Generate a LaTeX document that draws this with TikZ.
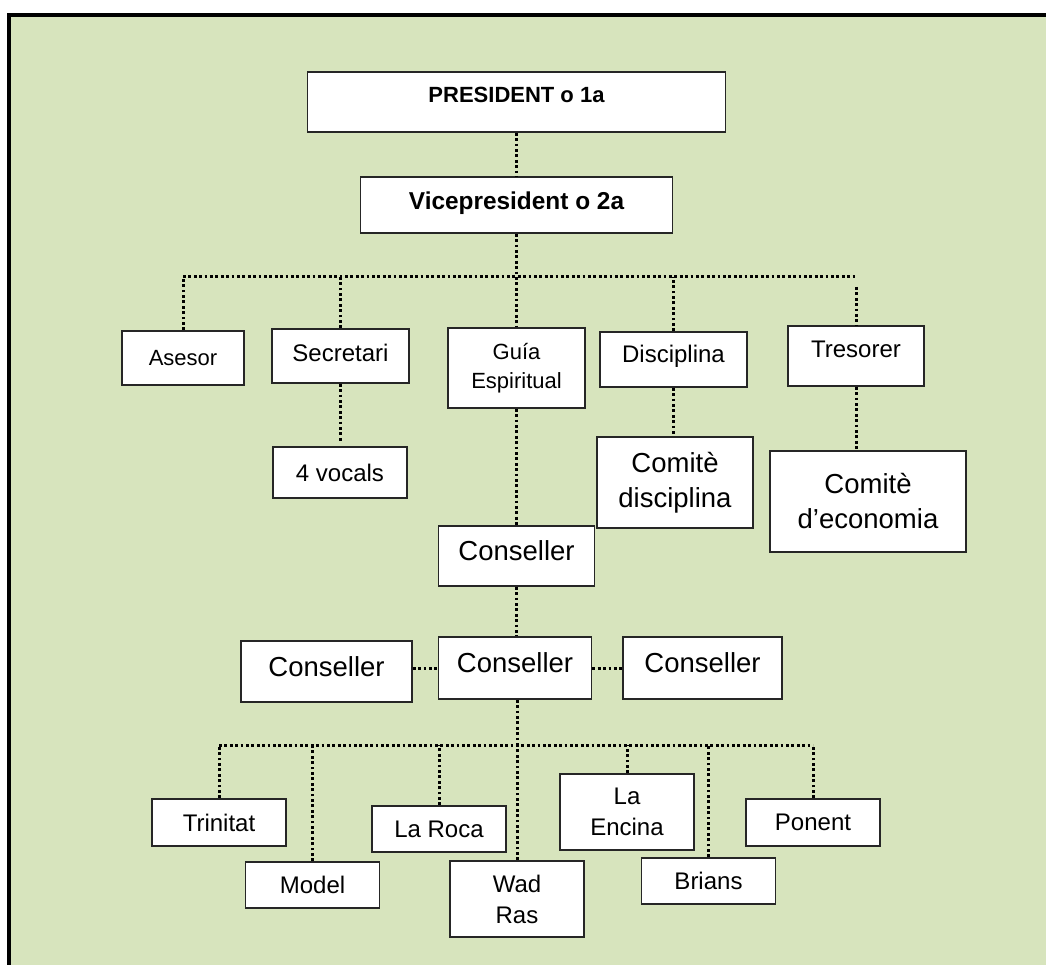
\documentclass[tikz,border=0pt]{standalone}
\usepackage{fontspec}
\setmainfont{Liberation Sans}
\definecolor{olivebg}{HTML}{D7E4BD}

\begin{document}
\begin{tikzpicture}[x=1pt,y=-1pt,
  box/.style={draw=black!85,fill=white,line width=1.6pt,inner sep=0pt,align=center},
  link/.style={line width=3pt,dash pattern=on 2.8pt off 2.6pt},
  fsmall/.style={font=\fontsize{22}{29}\selectfont},
  fmid/.style={font=\fontsize{24}{31}\selectfont},
  fbig/.style={font=\fontsize{27.5}{35}\selectfont},
  lift/.style={text depth=#1},
  lift/.default=10pt]
\useasboundingbox (0,0) rectangle (1046,965);
\fill[white] (0,0) rectangle (1046,965);
\fill[olivebg] (9,15) rectangle (1046,965);
\draw[line width=4pt] (9,965) -- (9,15) -- (1046,15);

\node[box,font=\bfseries\fontsize{22}{26}\selectfont,minimum width=418pt,minimum height=60pt,lift=14pt] (Pres) at (516.5,102) {PRESIDENT o 1a};
\node[box,font=\bfseries\fontsize{24.4}{29}\selectfont,minimum width=312pt,minimum height=56pt,lift=9pt] (Vice) at (516.5,205) {Vicepresident o 2a};

\node[box,fsmall,minimum width=122pt,minimum height=54pt] (Ases) at (183,358) {Asesor};
\node[box,fmid,minimum width=137pt,minimum height=54pt,lift=7pt] (Secr) at (340.5,356) {Secretari};
\node[box,fsmall,minimum width=137pt,minimum height=80pt] (Guia) at (516.5,368) {Guía\\Espiritual};
\node[box,fmid,minimum width=147pt,minimum height=55pt,lift=11pt] (Disc) at (673.5,359.5) {Disciplina};
\node[box,fmid,minimum width=136pt,minimum height=60pt,lift=14pt] (Tres) at (856,356) {Tresorer};

\node[box,fmid,minimum width=134pt,minimum height=51pt] (Voc) at (340,472.5) {4 vocals};
\node[box,fbig,minimum width=156pt,minimum height=91pt] (CDis) at (675,482.5) {Comitè\\disciplina};
\node[box,fbig,minimum width=196pt,minimum height=101pt] (CEco) at (868,501.5) {Comitè\\d’economia};

\node[box,fbig,minimum width=156pt,minimum height=60pt,lift] (Con) at (516.5,556) {Conseller};
\node[box,fbig,minimum width=171pt,minimum height=61pt,lift] (ConL) at (326.5,671.5) {Conseller};
\node[box,fbig,minimum width=153pt,minimum height=62pt,lift] (ConM) at (515,668) {Conseller};
\node[box,fbig,minimum width=159pt,minimum height=62pt,lift] (ConR) at (702.5,668) {Conseller};

\coordinate (B1) at (516.5,277);
\coordinate (B2) at (517,745);

% top levels
\draw[link] (Pres) -- (Vice);
\draw[link] (Vice) -- (Guia);
\draw[link] (Ases.north |- B1) -- (Tres.north |- B1);
\foreach \n in {Ases,Secr,Disc} {
  \draw[link] (\n.north) -- (\n.north |- B1);
}
\draw[link,shorten <=10pt] (Tres.north |- B1) -- (Tres.north);
\draw[link,shorten >=4pt] (Secr.south) -- (Secr.south |- Voc.north);
\draw[link] (Disc.south) -- (Disc.south |- CDis.north);
\draw[link] (Tres.south) -- (Tres.south |- CEco.north);

% consellers
\draw[link] (Guia) -- (Con);
\draw[link] (Con.south) -- (Con.south |- ConM.north);
\draw[link] (ConL.east |- ConM) -- (ConM.west);
\draw[link] (ConM.east) -- (ConR.west);
\draw[link] (ConM.south -| B2) -- (B2);

% bottom row
\foreach \n/\x/\y/\h/\t in {Trin/219/822.5/47/Trinitat, Mod/312.5/885/46/Model,
    Roca/439/829/46/La Roca, Wad/517/899/76/{Wad\\Ras}, Enc/627/812/76/{La\\Encina},
    Bri/708.5/881/46/Brians, Pon/813/822.5/47/Ponent} {
  \node[box,fmid,minimum width=134pt,minimum height=\h*1pt] (\n) at (\x,\y) {\t};
  \draw[link] (\n.north) -- (\n.north |- B2);
}
\draw[link] (Trin.north |- B2) -- (Pon.north |- B2);
\end{tikzpicture}
\end{document}
